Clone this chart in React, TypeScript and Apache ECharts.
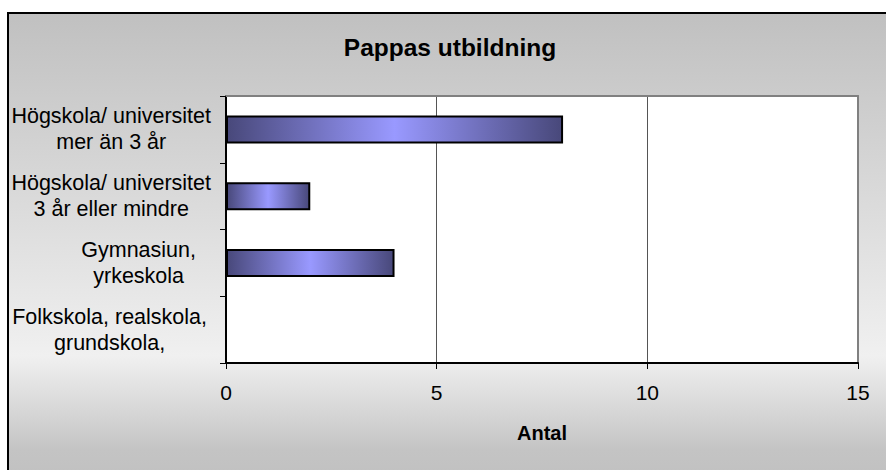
import React, { useEffect, useRef } from "react";
import * as echarts from "echarts";

const titleText = "Pappas utbildning";
const xAxisName = "Antal";
const categories = [
  "Högskola/ universitet\nmer än 3 år",
  "Högskola/ universitet\n3 år eller mindre",
  "Gymnasiun,\nyrkeskola",
  "Folkskola, realskola,\ngrundskola,",
];
const values = [8, 2, 4, 0];
const xMin = 0;
const xMax = 15;
const xInterval = 5;

const FONT = 'Arial, "Liberation Sans", sans-serif';
const LABEL_SIZE = 21.5;
// extra right-hand inset of each wrapped label block (layout only)
const labelInset = [0, 0, 15, 4];

function measure(text: string, size: number): number {
  const c = document.createElement("canvas");
  const ctx = c.getContext("2d");
  if (!ctx) return text.length * size * 0.5;
  ctx.font = `${size}px ${FONT}`;
  return ctx.measureText(text).width;
}

export default function App() {
  const ref = useRef<HTMLDivElement>(null);
  useEffect(() => {
    if (!ref.current) return;
    const chart = echarts.init(ref.current, undefined, { renderer: "svg" });

    // Build centred multi-line labels: each line padded to the block width.
    const rich: Record<string, any> = {};
    const labelMap: Record<string, string> = {};
    categories.forEach((cat, i) => {
      const lines = cat.split("\n");
      const widths = lines.map((l) => measure(l, LABEL_SIZE));
      const W = Math.max(...widths);
      labelMap[cat] = lines
        .map((l, j) => {
          const pad = (W - widths[j]) / 2;
          const name = `r${i}_${j}`;
          rich[name] = {
            fontFamily: FONT,
            fontSize: LABEL_SIZE,
            lineHeight: 26,
            color: "#000",
            padding: [0, pad + labelInset[i], 0, pad],
          };
          return `{${name}|${l}}`;
        })
        .join("\n");
    });

    const barGradient = new echarts.graphic.LinearGradient(0, 0, 1, 0, [
      { offset: 0, color: "#48487a" },
      { offset: 0.5, color: "#9999ff" },
      { offset: 1, color: "#48487a" },
    ]);
    const bgGradient = new echarts.graphic.LinearGradient(0, 0, 0, 1, [
      { offset: 0, color: "#c0c0c0" },
      { offset: 0.73, color: "#f0f0f0" },
      { offset: 0.85, color: "#d6d6d6" },
      { offset: 0.93, color: "#c4c4c4" },
      { offset: 1, color: "#c0c0c0" },
    ]);
    chart.setOption({
      animation: false,
      backgroundColor: "#ffffff",
      textStyle: { fontFamily: FONT },
      graphic: [
        {
          type: "rect",
          z: -10,
          silent: true,
          shape: { x: 8, y: 13, width: 900, height: 470 },
          style: { fill: bgGradient, stroke: "#000", lineWidth: 2 },
        },
      ],
      title: {
        text: titleText,
        left: 445,
        top: 30,
        textAlign: "center",
        textStyle: { fontFamily: FONT, fontSize: 24.5, fontWeight: "bold", color: "#000" },
      },
      grid: {
        left: 226,
        right: 28,
        top: 96,
        bottom: 107,
        show: true,
        backgroundColor: "#ffffff",
        borderWidth: 0,
      },
      xAxis: [
        {
          type: "value",
          min: xMin,
          max: xMax,
          interval: xInterval,
          position: "bottom",
          name: xAxisName,
          nameLocation: "middle",
          nameGap: 60,
          nameTextStyle: { fontFamily: FONT, fontSize: 20, fontWeight: "bold", color: "#000" },
          axisLine: { show: true, onZero: false, lineStyle: { color: "#000", width: 2 } },
          axisTick: { show: true, length: 6, lineStyle: { color: "#000", width: 1 } },
          axisLabel: { fontFamily: FONT, fontSize: 21, color: "#000", margin: 19 },
          splitLine: { show: true, lineStyle: { color: "#555", width: 1 } },
        },
        {
          type: "value",
          min: xMin,
          max: xMax,
          interval: xInterval,
          position: "top",
          axisLine: { show: true, onZero: false, lineStyle: { color: "#808080", width: 2 } },
          axisTick: { show: false },
          axisLabel: { show: false },
          splitLine: { show: false },
        },
      ],
      yAxis: [
        {
          type: "category",
          data: categories,
          inverse: true,
          position: "left",
          axisLine: { show: true, onZero: false, lineStyle: { color: "#000", width: 2 } },
          axisTick: { show: true, length: 6, lineStyle: { color: "#000", width: 1 } },
          axisLabel: {
            margin: 15,
            fontFamily: FONT,
            fontSize: LABEL_SIZE,
            color: "#000",
            lineHeight: 26,
            formatter: (v: string) => labelMap[v] ?? v,
            rich,
          },
          splitLine: { show: false },
        },
        {
          type: "value",
          position: "right",
          min: 0,
          max: 1,
          axisLine: { show: true, onZero: false, lineStyle: { color: "#808080", width: 2 } },
          axisTick: { show: false },
          axisLabel: { show: false },
          splitLine: { show: false },
        },
      ],
      series: [
        {
          type: "bar",
          xAxisIndex: 0,
          yAxisIndex: 0,
          data: values,
          barWidth: 28,
          itemStyle: { color: barGradient, borderColor: "#000", borderWidth: 2 },
        },
      ],
    });
    return () => chart.dispose();
  }, []);
  return (
    <div
      ref={ref}
      style={{ position: "absolute", left: 0, top: 0, width: 886, height: 470 }}
    />
  );
}
